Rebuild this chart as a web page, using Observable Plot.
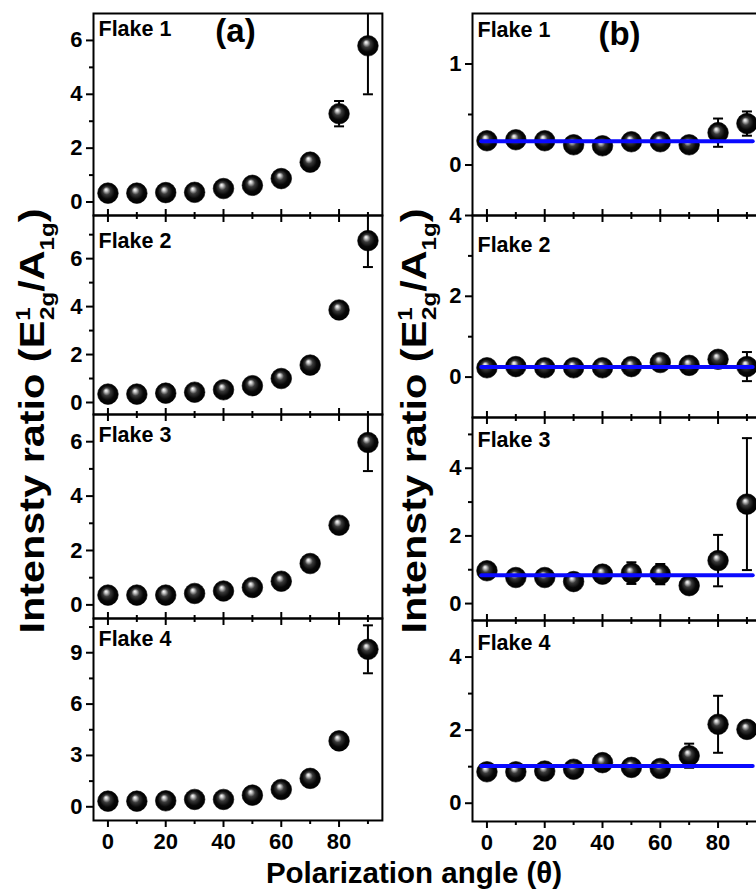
<!DOCTYPE html>
<html><head><meta charset="utf-8">
<script src="https://cdn.jsdelivr.net/npm/d3@7"></script>
<script src="https://cdn.jsdelivr.net/npm/@observablehq/plot@0.6"></script>
<style>
body{margin:0;background:#fff;}
#fig{position:relative;width:756px;height:894px;overflow:hidden;background:#fff;font-family:"Liberation Sans",Arial,sans-serif;font-weight:bold;}
#fig svg{position:absolute;max-width:none;}
</style></head><body><div id="fig"></div>
<script>
// ---- data ----
const angles = [0, 10, 20, 30, 40, 50, 60, 70, 80, 90];
const xMajor = [0, 20, 40, 60, 80];
const xMinor = [10, 30, 50, 70, 90];
const flakeLabels = ["Flake 1", "Flake 2", "Flake 3", "Flake 4"];

// (a) columns
const a1 = [0.33, 0.33, 0.35, 0.36, 0.50, 0.62, 0.87, 1.48, 3.28, 5.80];
const a1err = [0, 0, 0, 0, 0, 0, 0, 0, 0.47, 1.80];
const a2 = [0.35, 0.35, 0.39, 0.43, 0.53, 0.70, 1.00, 1.56, 3.86, 6.75];
const a2err = [0, 0, 0, 0, 0, 0, 0, 0, 0, 1.10];
const a3 = [0.36, 0.36, 0.36, 0.42, 0.51, 0.64, 0.87, 1.52, 2.93, 5.97];
const a3err = [0, 0, 0, 0, 0, 0, 0, 0, 0, 1.05];
const a4 = [0.33, 0.33, 0.35, 0.43, 0.43, 0.68, 1.01, 1.66, 3.85, 9.20];
const a4err = [0, 0, 0, 0, 0, 0, 0, 0, 0, 1.40];

// (b) columns
const b1 = [0.24, 0.25, 0.24, 0.20, 0.19, 0.23, 0.23, 0.20, 0.32, 0.41];
const b1err = [0, 0, 0, 0, 0, 0, 0, 0, 0.14, 0.12];
const b2 = [0.23, 0.26, 0.23, 0.23, 0.23, 0.26, 0.36, 0.29, 0.44, 0.26];
const b2err = [0, 0, 0, 0, 0, 0, 0, 0, 0.10, 0.36];
const b3 = [0.97, 0.77, 0.77, 0.65, 0.87, 0.90, 0.87, 0.53, 1.27, 2.94];
const b3err = [0.15, 0, 0, 0, 0, 0.32, 0.30, 0, 0.76, 1.95];
const b4 = [0.86, 0.86, 0.88, 0.93, 1.11, 0.98, 0.95, 1.30, 2.16, 2.02];
const b4err = [0, 0, 0, 0, 0, 0, 0, 0.33, 0.78, 0];
const bFit = [0.235, 0.25, 0.84, 1.02];
const fitX = [-2, 92];

// axis domains and ticks
const aDomains = [[-0.5, 7], [-0.5, 7.8], [-0.5, 7], [-0.8, 11]];
const aMajor = [[0, 2, 4, 6], [0, 2, 4, 6], [0, 2, 4, 6], [0, 3, 6, 9]];
const aMinor = [[1, 3, 5], [1, 3, 5, 7], [1, 3, 5], [1.5, 4.5, 7.5, 10.5]];
const bDomains = [[-0.5, 1.5], [-1, 4], [-0.5, 5.5], [-0.5, 5]];
const bMajor = [[0, 1], [0, 2, 4], [0, 2, 4], [0, 2, 4]];
const bMinor = [[0.5], [1, 3], [1, 3, 5], [1, 3]];

// ---- layout ----
const fig = document.getElementById("fig");
const NS = "http://www.w3.org/2000/svg";
const defsSvg = document.createElementNS(NS, "svg");
defsSvg.setAttribute("width", 0); defsSvg.setAttribute("height", 0);
defsSvg.innerHTML = `<defs><radialGradient id="sphere" cx="0.5" cy="0.5" r="0.5" fx="0.4" fy="0.32">
<stop offset="0" stop-color="#ffffff"/><stop offset="0.14" stop-color="#c8c8c8"/>
<stop offset="0.38" stop-color="#3a3a3a"/><stop offset="0.7" stop-color="#080808"/><stop offset="1" stop-color="#000"/>
</radialGradient></defs>`;
fig.appendChild(defsSvg);

const capSymbol = {draw(ctx, size) { const w = Math.sqrt(size / Math.PI); ctx.moveTo(-w, 0); ctx.lineTo(w, 0); }};
const fmt = d => String(d);

function panel(o) {
  const mL = 70, mR = 10, mT = 10, mB = o.bottomRow ? 60 : 10;
  const fw = 288.9, fh = o.frameBottom - o.frameTop;
  const data = angles.map((a, i) => ({angle: a, value: o.values[i], err: o.errors[i]}));
  const errData = data.filter(d => d.err > 0);
  const marks = [
    Plot.ruleX(errData, {x: "angle", y1: d => d.value - d.err, y2: d => d.value + d.err, stroke: "black", strokeWidth: 2, clip: true}),
    Plot.dot(errData, {x: "angle", y: d => d.value - d.err, symbol: capSymbol, r: 5, stroke: "black", strokeWidth: 2, clip: true}),
    Plot.dot(errData, {x: "angle", y: d => d.value + d.err, symbol: capSymbol, r: 5, stroke: "black", strokeWidth: 2, clip: true}),
    Plot.dot(data, {x: "angle", y: "value", r: 10.3, fill: "url(#sphere)", stroke: "#000", strokeWidth: 0.6}),
  ];
  if (o.fit != null) {
    marks.push(Plot.line(fitX.map(x => ({x, y: o.fit})), {x: "x", y: "y", stroke: "#0a0aff", strokeWidth: 4}));
  }
  marks.push(
    Plot.frame({stroke: "black", strokeWidth: 2}),
    Plot.axisY({ticks: o.yMajor, tickSize: 7, tickPadding: 4, fontSize: 22, strokeWidth: 2, label: null, tickFormat: fmt}),
    Plot.axisY({ticks: o.yMinor, tickSize: 4, tickFormat: () => "", strokeWidth: 2, label: null}),
    Plot.axisX({ticks: xMajor, tickSize: 7, tickPadding: 6, fontSize: 22, strokeWidth: 2, label: null, tickFormat: o.bottomRow ? fmt : (() => "")}),
    Plot.axisX({ticks: xMinor, tickSize: 4, tickFormat: () => "", strokeWidth: 2, label: null}),
    Plot.text([o.label], {frameAnchor: "top-left", dx: 5, dy: o.labelDy, lineAnchor: "bottom", textAnchor: "start", fontSize: 21.5, fill: "black"})
  );
  if (o.topTicks) {
    marks.push(
      Plot.axisX({anchor: "top", ticks: xMajor, tickSize: 7, tickFormat: () => "", strokeWidth: 2, label: null}),
      Plot.axisX({anchor: "top", ticks: xMinor, tickSize: 4, tickFormat: () => "", strokeWidth: 2, label: null})
    );
  }
  if (o.tag) {
    marks.push(Plot.text([o.tag], {frameAnchor: "top-left", dx: o.tagDx, dy: o.tagDy, lineAnchor: "bottom", textAnchor: "middle", fontSize: 33, fill: "black"}));
  }
  const svg = Plot.plot({
    width: fw + mL + mR, height: fh + mT + mB,
    marginLeft: mL, marginRight: mR, marginTop: mT, marginBottom: mB,
    x: {domain: [-5, 95]},
    y: {domain: o.yDomain},
    style: {fontFamily: '"Liberation Sans", Arial, sans-serif', fontWeight: "bold", fontSize: "22px", background: "transparent", overflow: "visible", color: "black"},
    marks
  });
  svg.style.left = (o.frameLeft - mL) + "px";
  svg.style.top = (o.frameTop - mT) + "px";
  fig.appendChild(svg);
}

const aRows = [13, 215, 414, 618, 820];
const bRows = [13, 215, 417, 620, 821];
const aVals = [a1, a2, a3, a4], aErrs = [a1err, a2err, a3err, a4err];
const bVals = [b1, b2, b3, b4], bErrs = [b1err, b2err, b3err, b4err];
const aLabelDy = [23, 33, 28, 28];
const bLabelDy = [24, 37, 30, 30];

for (let i = 0; i < 4; i++) {
  panel({values: aVals[i], errors: aErrs[i], fit: null, yDomain: aDomains[i], yMajor: aMajor[i], yMinor: aMinor[i],
    label: flakeLabels[i], labelDy: aLabelDy[i], frameLeft: 92.5, frameTop: aRows[i], frameBottom: aRows[i + 1],
    bottomRow: i === 3, topTicks: i > 0, tag: i === 0 ? "(a)" : null, tagDx: 142, tagDy: 29});
  panel({values: bVals[i], errors: bErrs[i], fit: bFit[i], yDomain: bDomains[i], yMajor: bMajor[i], yMinor: bMinor[i],
    label: flakeLabels[i], labelDy: bLabelDy[i], frameLeft: 472.3, frameTop: bRows[i], frameBottom: bRows[i + 1],
    bottomRow: i === 3, topTicks: i > 0, tag: i === 0 ? "(b)" : null, tagDx: 147, tagDy: 32});
}

// ---- titles ----
const ov = document.createElementNS(NS, "svg");
ov.setAttribute("width", 756); ov.setAttribute("height", 894);
ov.style.left = "0px"; ov.style.top = "0px"; ov.style.pointerEvents = "none";
const yTitle = (x) => `<text transform="translate(${x},421) rotate(-90) scale(1.15,0.95)" text-anchor="middle" font-size="36" font-weight="bold" font-family="Liberation Sans, Arial, sans-serif" fill="black">Intensty ratio (E<tspan font-size="21" dy="-15">1</tspan><tspan font-size="21" dx="-11" dy="25">2g</tspan><tspan dy="-10">/A</tspan><tspan font-size="21" dy="10">1g</tspan><tspan dy="-10">)</tspan></text>`;
ov.innerHTML = yTitle(44) + yTitle(426) +
  `<text x="414" y="883" text-anchor="middle" font-size="29.5" font-weight="bold" font-family="Liberation Sans, Arial, sans-serif" fill="black">Polarization angle (θ)</text>`;
fig.appendChild(ov);
</script></body></html>
